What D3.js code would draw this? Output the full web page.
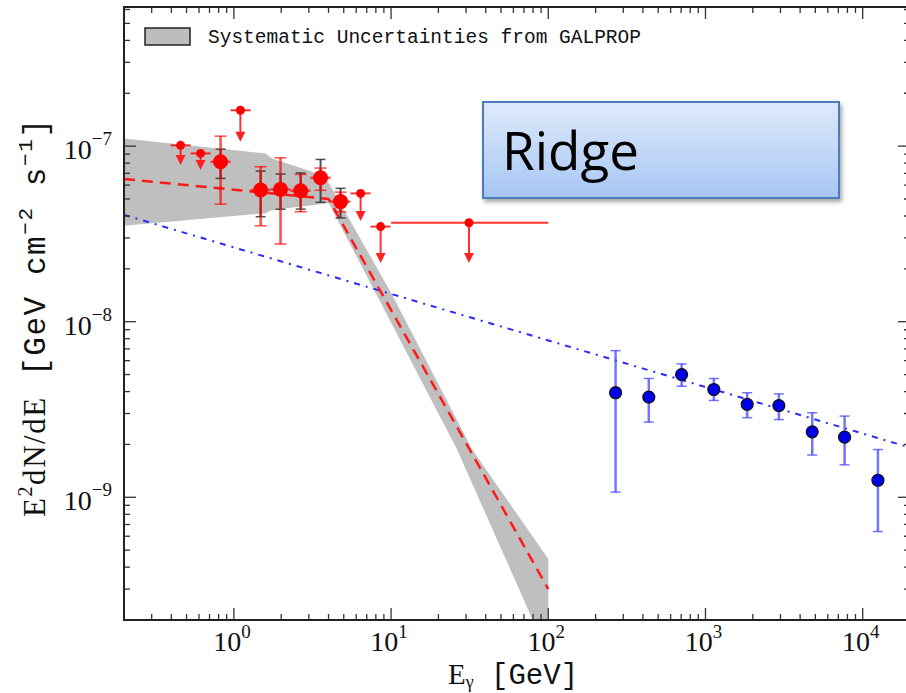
<!DOCTYPE html>
<html>
<head>
<meta charset="utf-8">
<script src="https://cdn.jsdelivr.net/npm/d3@7"></script>
<style>
  body { margin: 0; background: #fff; }
  svg { display: block; }
</style>
</head>
<body>
<div id="chart"></div>
<script>
// red Fermi points (bins in GeV, flux in GeV cm^-2 s^-1)
const pointE = [0.823, 1.48, 1.98, 2.66, 3.56, 4.77];
const pointBinLo = [0.711, 1.277, 1.71, 2.29, 3.07, 4.12];
const pointBinHi = [0.953, 1.71, 2.29, 3.07, 4.12, 5.52];
const pointFlux = [8.14e-8, 5.62e-8, 5.67e-8, 5.57e-8, 6.6e-8, 4.83e-8];
const statLo = [4.67e-8, 3.52e-8, 2.77e-8, 4.23e-8, 5.6e-8, 4.22e-8];
const statHi = [1.14e-7, 7.63e-8, 8.58e-8, 6.9e-8, 7.5e-8, 5.47e-8];
const sysLo = [6.55e-8, 3.96e-8, 4.37e-8, 4.38e-8, 4.79e-8, 3.9e-8];
const sysHi = [9.61e-8, 7.21e-8, 6.94e-8, 7.03e-8, 8.4e-8, 5.75e-8];

// red upper limits
const limitE = [0.458, 0.614, 1.10, 6.40, 8.58, 31.3];
const limitBinLo = [0.396, 0.531, 0.953, 5.52, 7.40, 10];
const limitBinHi = [0.531, 0.711, 1.277, 7.40, 9.92, 100];
const limitFlux = [1.01e-7, 9.09e-8, 1.6e-7, 5.38e-8, 3.48e-8, 3.66e-8];
const limitTip = [7.8e-8, 7.3e-8, 1.06e-7, 3.75e-8, 2.16e-8, 2.16e-8];

// blue HESS points
const blueE = [268, 436, 705, 1130, 1842, 2930, 4775, 7673, 12500];
const blueFlux = [3.94e-9, 3.72e-9, 5.0e-9, 4.11e-9, 3.38e-9, 3.33e-9, 2.36e-9, 2.2e-9, 1.25e-9];
const blueLo = [1.07e-9, 2.68e-9, 4.29e-9, 3.56e-9, 2.84e-9, 2.77e-9, 1.74e-9, 1.53e-9, 6.38e-10];
const blueHi = [6.84e-9, 4.75e-9, 5.75e-9, 4.75e-9, 3.94e-9, 3.88e-9, 3.03e-9, 2.9e-9, 1.87e-9];

// GALPROP systematic band
const bandUpperE = [0.2, 1.59, 1.75, 3.15, 4.02, 10, 32.8, 100];
const bandUpperF = [1.106e-7, 9.09e-8, 8.51e-8, 7.14e-8, 6.14e-8, 1.46e-8, 1.87e-9, 4.45e-10];
const bandLowerE = [0.2, 1.59, 1.75, 4.02, 7.96, 26.3, 79, 100];
const bandLowerF = [3.52e-8, 4.15e-8, 4.33e-8, 4.72e-8, 1.46e-8, 1.87e-9, 2.03e-10, 1.3e-10];

// model lines
const redModelE = [0.2, 4.0, 100];
const redModelF = [6.5e-8, 5.0e-8, 3.0e-10];
const blueModelE = [0.2, 2e4];
const blueModelF = [4.06e-8, 1.92e-9];

const xDecades = [1, 10, 100, 1000, 10000];
const xExponents = ["0", "1", "2", "3", "4"];
const yDecades = [1e-9, 1e-8, 1e-7];
const yExponents = ["\u22129", "\u22128", "\u22127"];

const width = 906, height = 693;
const plotLeft = 124, plotRight = 910, plotTop = 7, plotBottom = 620;

const svg = d3.select("#chart").append("svg")
  .attr("width", width)
  .attr("height", height);

const x = d3.scaleLog().domain([0.2, 2e4]).range([plotLeft, plotRight]);
const y = d3.scaleLog().domain([2e-10, 6.2e-7]).range([plotBottom, plotTop]);

const defs = svg.append("defs");
defs.append("clipPath").attr("id", "plot")
  .append("rect")
  .attr("x", plotLeft).attr("y", plotTop)
  .attr("width", plotRight - plotLeft).attr("height", plotBottom - plotTop);

const grad = defs.append("linearGradient").attr("id", "boxfill")
  .attr("x1", 0).attr("y1", 0).attr("x2", 0).attr("y2", 1);
grad.append("stop").attr("offset", "0%").attr("stop-color", "#dfeafb");
grad.append("stop").attr("offset", "100%").attr("stop-color", "#a6c5f3");

const shadow = defs.append("filter").attr("id", "shadow")
  .attr("x", "-10%").attr("y", "-10%").attr("width", "130%").attr("height", "140%");
shadow.append("feDropShadow")
  .attr("dx", 2).attr("dy", 3).attr("stdDeviation", 2)
  .attr("flood-color", "#000").attr("flood-opacity", 0.35);

const plot = svg.append("g").attr("clip-path", "url(#plot)");

// band
const band = bandUpperE.map((e, i) => [e, bandUpperF[i]])
  .concat(bandLowerE.map((e, i) => [e, bandLowerF[i]]).reverse());
plot.append("path")
  .attr("d", d3.line().x(d => x(d[0])).y(d => y(d[1]))(band) + "Z")
  .attr("fill", "#bfbfbf");

// model lines
const line = d3.line().x(d => x(d[0])).y(d => y(d[1]));
plot.append("path")
  .attr("d", line(blueModelE.map((e, i) => [e, blueModelF[i]])))
  .attr("fill", "none")
  .attr("stroke", "#2a2aff")
  .attr("stroke-width", 2)
  .attr("stroke-dasharray", "6,6,2,6");

plot.append("path")
  .attr("d", line(redModelE.map((e, i) => [e, redModelF[i]])))
  .attr("fill", "none")
  .attr("stroke", "#ff1a1a")
  .attr("stroke-width", 2.5)
  .attr("stroke-dasharray", "11,7");

// vertical error bar with caps
function errBar(g, cx, y1, y2, color, w, cap) {
  g.append("line").attr("x1", cx).attr("x2", cx).attr("y1", y1).attr("y2", y2)
    .attr("stroke", color).attr("stroke-width", w);
  [y1, y2].forEach(v => g.append("line")
    .attr("x1", cx - cap).attr("x2", cx + cap).attr("y1", v).attr("y2", v)
    .attr("stroke", color).attr("stroke-width", 1.5));
}

// blue points
const blueG = plot.append("g");
blueE.forEach((e, i) => {
  errBar(blueG, x(e), y(blueHi[i]), y(blueLo[i]), "rgba(70,70,255,0.75)", 2.5, 5);
});
blueG.selectAll("circle").data(blueE).join("circle")
  .attr("cx", d => x(d))
  .attr("cy", (d, i) => y(blueFlux[i]))
  .attr("r", 6)
  .attr("fill", "#0000e6")
  .attr("stroke", "#111")
  .attr("stroke-width", 1.2);

// red points
const redG = plot.append("g");
pointE.forEach((e, i) => {
  errBar(redG, x(e), y(sysHi[i]), y(sysLo[i]), "rgba(40,40,40,0.8)", 2, 5);
  errBar(redG, x(e), y(statHi[i]), y(statLo[i]), "rgba(255,0,0,0.7)", 2.5, 6);
  redG.append("line")
    .attr("x1", x(pointBinLo[i])).attr("x2", x(pointBinHi[i]))
    .attr("y1", y(pointFlux[i])).attr("y2", y(pointFlux[i]))
    .attr("stroke", "rgba(255,0,0,0.7)").attr("stroke-width", 2.5);
});
redG.selectAll("circle").data(pointE).join("circle")
  .attr("cx", d => x(d))
  .attr("cy", (d, i) => y(pointFlux[i]))
  .attr("r", 7.5)
  .attr("fill", "#ff0000");

// upper limits
const ulG = plot.append("g");
limitE.forEach((e, i) => {
  const cx = x(e), cy = y(limitFlux[i]), ty = y(limitTip[i]);
  ulG.append("line")
    .attr("x1", x(limitBinLo[i])).attr("x2", x(limitBinHi[i]))
    .attr("y1", cy).attr("y2", cy)
    .attr("stroke", "rgba(255,0,0,0.8)").attr("stroke-width", 2);
  ulG.append("line")
    .attr("x1", cx).attr("x2", cx).attr("y1", cy).attr("y2", ty - 8)
    .attr("stroke", "rgba(255,0,0,0.8)").attr("stroke-width", 2);
  ulG.append("path")
    .attr("d", `M${cx - 5},${ty - 10}L${cx + 5},${ty - 10}L${cx},${ty}Z`)
    .attr("fill", "#ff2020");
  ulG.append("circle").attr("cx", cx).attr("cy", cy).attr("r", 4.5).attr("fill", "#ff0000");
});

// axes: inward ticks on all four sides
const xMinor = x.ticks().filter(t => !xDecades.includes(t));
const yMinor = y.ticks().filter(t => !yDecades.some(v => Math.abs(v - t) / v < 1e-6));
const axisG = svg.append("g").attr("stroke", "#333").attr("stroke-width", 1.3);
function xTicks(vals, len) {
  vals.forEach(v => {
    axisG.append("line").attr("x1", x(v)).attr("x2", x(v)).attr("y1", plotBottom).attr("y2", plotBottom - len);
    axisG.append("line").attr("x1", x(v)).attr("x2", x(v)).attr("y1", plotTop).attr("y2", plotTop + len);
  });
}
function yTicks(vals, len) {
  vals.forEach(v => {
    axisG.append("line").attr("y1", y(v)).attr("y2", y(v)).attr("x1", plotLeft).attr("x2", plotLeft + len);
    axisG.append("line").attr("y1", y(v)).attr("y2", y(v)).attr("x1", plotRight).attr("x2", plotRight - len);
  });
}
xTicks(xMinor, 6);
xTicks(xDecades, 12);
yTicks(yMinor, 6);
yTicks(yDecades, 12);

svg.append("rect")
  .attr("x", plotLeft).attr("y", plotTop)
  .attr("width", plotRight - plotLeft).attr("height", plotBottom - plotTop)
  .attr("fill", "none").attr("stroke", "#222").attr("stroke-width", 2);

// tick labels
const serif = "'Liberation Serif', 'DejaVu Serif', serif";
const mono = "'Liberation Mono', 'DejaVu Sans Mono', monospace";
xDecades.forEach((v, i) => {
  const t = svg.append("text")
    .attr("x", x(v) - 2).attr("y", 651)
    .attr("text-anchor", "middle")
    .attr("font-family", serif).attr("font-size", 28).attr("fill", "#111");
  t.append("tspan").text("10");
  t.append("tspan").attr("dy", -13).attr("font-size", 19).text(xExponents[i]);
});
yDecades.forEach((v, i) => {
  const t = svg.append("text")
    .attr("x", 112).attr("y", y(v) + 13)
    .attr("text-anchor", "end")
    .attr("font-family", serif).attr("font-size", 28).attr("fill", "#111");
  t.append("tspan").text("10");
  t.append("tspan").attr("dy", -14).attr("font-size", 19).text(yExponents[i]);
});

// axis titles
const xl = svg.append("text")
  .attr("x", (plotLeft + plotRight) / 2 - 4).attr("y", 684)
  .attr("text-anchor", "middle")
  .attr("font-family", serif).attr("font-size", 29).attr("fill", "#111");
xl.append("tspan").text("E");
xl.append("tspan").attr("dy", 4).attr("font-size", 18).text("\u03b3");
xl.append("tspan").attr("dy", -4).attr("font-family", mono).text(" [GeV]");

const yl = svg.append("text")
  .attr("transform", `translate(45,318) rotate(-90)`)
  .attr("text-anchor", "middle")
  .attr("textLength", 398)
  .attr("lengthAdjust", "spacing")
  .attr("font-family", mono).attr("font-size", 31).attr("fill", "#111");
yl.append("tspan").attr("font-family", serif).text("E");
yl.append("tspan").attr("dy", -13).attr("font-size", 20).attr("font-family", serif).text("2");
yl.append("tspan").attr("dy", 13).attr("font-family", serif).text("dN/dE");
yl.append("tspan").text("  [GeV cm");
yl.append("tspan").attr("dy", -13).attr("font-size", 21).text("\u22122");
yl.append("tspan").attr("dy", 13).text(" s");
yl.append("tspan").attr("dy", -13).attr("font-size", 21).text("\u22121");
yl.append("tspan").attr("dy", 13).text("]");

// legend
svg.append("rect")
  .attr("x", 145).attr("y", 28).attr("width", 45).attr("height", 17)
  .attr("fill", "#bdbdbd").attr("stroke", "#222").attr("stroke-width", 1.5);
svg.append("text")
  .attr("x", 208).attr("y", 43)
  .attr("font-family", mono).attr("font-size", 19.5)
  .attr("fill", "#111")
  .text("Systematic Uncertainties from GALPROP");

// annotation box
svg.append("rect")
  .attr("x", 483).attr("y", 102).attr("width", 356).attr("height", 96)
  .attr("fill", "url(#boxfill)")
  .attr("stroke", "#4a7ebb").attr("stroke-width", 2)
  .attr("filter", "url(#shadow)");
svg.append("text")
  .attr("x", 502).attr("y", 170)
  .attr("font-family", "'Open Sans', sans-serif").attr("font-size", 53)
  .attr("fill", "#000")
  .text("Ridge");
</script>
</body>
</html>
